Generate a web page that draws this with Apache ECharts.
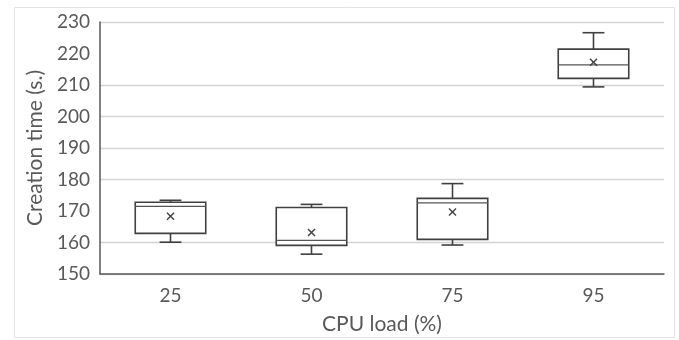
<!DOCTYPE html>
<html>
<head>
<meta charset="utf-8">
<script src="https://cdn.jsdelivr.net/npm/echarts@6/dist/echarts.min.js"></script>
<style>html,body{margin:0;padding:0;background:#fff}#c{width:679px;height:340px}</style>
</head>
<body>
<div id="c"></div>
<script>
var categories = ['25', '50', '75', '95'];
var minVals = [160.1, 156.3, 159.2, 209.4];
var q1Vals = [162.9, 159.1, 161.0, 212.1];
var medianVals = [171.5, 160.7, 172.6, 216.4];
var q3Vals = [172.8, 171.1, 174.0, 221.4];
var maxVals = [173.4, 172.1, 178.7, 226.6];
var meanVals = [168.3, 163.2, 169.7, 217.2];
var yTicks = [150, 160, 170, 180, 190, 200, 210, 220, 230];

var data = categories.map(function (c, i) {
  return [i, minVals[i], q1Vals[i], medianVals[i], q3Vals[i], maxVals[i], meanVals[i]];
});

var lineCol = '#404040';
var gridCol = '#d4d4d4';
var font = 'Lato, "Open Sans", sans-serif';

var chart = echarts.init(document.getElementById('c'), null, {renderer: 'canvas'});
chart.setOption({
  animation: false,
  backgroundColor: '#fff',
  graphic: [{
    type: 'rect', left: 12, top: 5, silent: true,
    shape: {width: 660, height: 330},
    style: {fill: 'none', stroke: '#e2e2e2', lineWidth: 1}
  }],
  grid: {left: 100, right: 15, top: 22, bottom: 65},
  xAxis: {
    type: 'category',
    data: categories,
    name: 'CPU load (%)',
    nameLocation: 'middle',
    nameGap: 40,
    nameTextStyle: {fontFamily: font, fontSize: 21, color: '#595959'},
    axisLine: {lineStyle: {color: '#595959', width: 1.5}},
    axisTick: {show: false},
    axisLabel: {fontFamily: font, fontSize: 19, color: '#595959', margin: 12},
    splitLine: {show: false}
  },
  yAxis: {
    type: 'value',
    min: 150, max: 230, interval: 10,
    name: 'Creation time (s.)',
    nameLocation: 'middle',
    nameGap: 51,
    nameTextStyle: {fontFamily: font, fontSize: 21, color: '#595959'},
    axisLine: {show: true, lineStyle: {color: '#595959', width: 1.5}},
    axisTick: {show: false},
    axisLabel: {fontFamily: font, fontSize: 19, color: '#595959', margin: 10},
    splitLine: {show: true, lineStyle: {width: 1.3,
      color: yTicks.map(function (v) { return (v === 170 || v === 220) ? 'rgba(0,0,0,0)' : gridCol; })}}
  },
  series: [{
    type: 'custom',
    data: data,
    encode: {x: 0, y: [1, 2, 3, 4, 5, 6]},
    renderItem: function (params, api) {
      var x = api.value(0);
      var band = api.size([1, 0])[0];
      var bw = band * 0.5;
      var cw = band * 0.155;
      var pMin = api.coord([x, api.value(1)]);
      var pQ1 = api.coord([x, api.value(2)]);
      var pMed = api.coord([x, api.value(3)]);
      var pQ3 = api.coord([x, api.value(4)]);
      var pMax = api.coord([x, api.value(5)]);
      var pMean = api.coord([x, api.value(6)]);
      var cx = pMin[0];
      var st = {stroke: lineCol, lineWidth: 1.6, fill: null};
      var m = 3.5;
      return {
        type: 'group',
        children: [
          {type: 'line', shape: {x1: cx, y1: pMax[1], x2: cx, y2: pQ3[1]}, style: st},
          {type: 'line', shape: {x1: cx, y1: pQ1[1], x2: cx, y2: pMin[1]}, style: st},
          {type: 'line', shape: {x1: cx - cw / 2, y1: pMax[1], x2: cx + cw / 2, y2: pMax[1]}, style: st},
          {type: 'line', shape: {x1: cx - cw / 2, y1: pMin[1], x2: cx + cw / 2, y2: pMin[1]}, style: st},
          {type: 'rect', shape: {x: cx - bw / 2, y: pQ3[1], width: bw, height: pQ1[1] - pQ3[1]},
            style: {stroke: lineCol, lineWidth: 1.6, fill: '#fff'}},
          {type: 'line', shape: {x1: cx - bw / 2, y1: pMed[1], x2: cx + bw / 2, y2: pMed[1]}, style: {stroke: '#555', lineWidth: 1.2}},
          {type: 'line', shape: {x1: pMean[0] - m, y1: pMean[1] - m, x2: pMean[0] + m, y2: pMean[1] + m}, style: {stroke: '#404040', lineWidth: 1.4}},
          {type: 'line', shape: {x1: pMean[0] - m, y1: pMean[1] + m, x2: pMean[0] + m, y2: pMean[1] - m}, style: {stroke: '#404040', lineWidth: 1.4}}
        ]
      };
    }
  }]
});
</script>
</body>
</html>
